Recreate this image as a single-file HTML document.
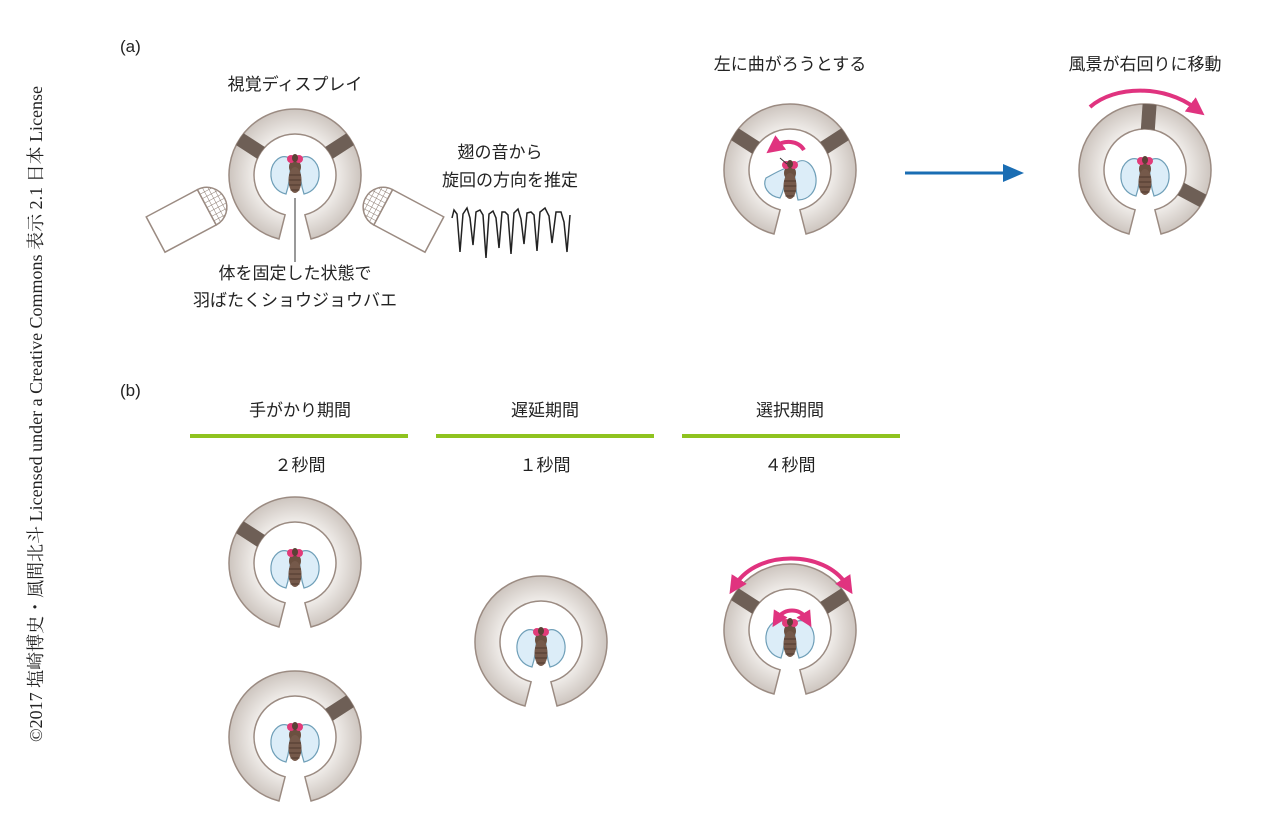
<!DOCTYPE html>
<html><head><meta charset="utf-8"><style>
body{margin:0;background:#fff}
svg{display:block}
text{font-family:"Liberation Sans","Noto Sans CJK JP",sans-serif;font-size:17px;fill:#222}
</style></head><body>
<svg width="1272" height="834" viewBox="0 0 1272 834" xmlns="http://www.w3.org/2000/svg">
<defs>
<radialGradient id="rg" cx="0" cy="0" r="66" gradientUnits="userSpaceOnUse">
<stop offset="0.6" stop-color="#f2efec"/><stop offset="1" stop-color="#cdc5bf"/></radialGradient>
<path id="ringp" d="M16 64 A66 66 0 1 0 -16 64 L-9.9 39.8 A41 41 0 1 1 9.9 39.8 Z"/>
<clipPath id="rc"><use href="#ringp"/></clipPath>
<g id="ring"><use href="#ringp" fill="url(#rg)" stroke="#9b8b82" stroke-width="1.5"/></g>
<rect id="pan" x="-7" y="-68" width="14" height="30" fill="#6e5f56"/>
<g id="wingR"><path d="M4 -13 C14 -20 23 -10 24 0 C25 12 18 20 9 22 C5 10 5 0 4 -13 Z" fill="#dcedf8" stroke="#6f9fb8" stroke-width="1.2"/></g>
<g id="body">
<ellipse cx="0" cy="-5" rx="6" ry="7" fill="#6b5040"/>
<ellipse cx="0" cy="8" rx="6.5" ry="13" fill="#75594a"/>
<path d="M-6 3 H6 M-6.3 8 H6.3 M-6 13 H6 M-4.5 18 H4.5" stroke="#4e392d" stroke-width="1"/>
<circle cx="-4" cy="-13" r="4" fill="#e23b79"/><circle cx="4" cy="-13" r="4" fill="#e23b79"/>
<ellipse cx="0" cy="-14" rx="3" ry="4" fill="#5a4236"/>
</g>
<g id="fly"><use href="#wingR"/><use href="#wingR" transform="scale(-1,1)"/><use href="#body"/></g>
<pattern id="hatch" width="5" height="5" patternUnits="userSpaceOnUse">
<rect width="5" height="5" fill="#fff"/><path d="M0 0 H5 M0 0 V5" stroke="#8a7a70" stroke-width="1"/></pattern>
<g id="mic">
<rect x="-48" y="-20" width="58" height="40" fill="#fff" stroke="#9b8b82" stroke-width="1.5"/>
<path d="M10 -20 A20 20 0 0 1 10 20 Z" fill="url(#hatch)" stroke="#9b8b82" stroke-width="1.5"/>
</g>
<marker id="ah" viewBox="0 0 6 6" markerWidth="4.5" markerHeight="4.5" refX="2" refY="3" orient="auto" markerUnits="strokeWidth"><path d="M0 0 L6 3 L0 6 Z" fill="#e0337f"/></marker>
<marker id="ahs" viewBox="0 0 6 6" markerWidth="4.5" markerHeight="4.5" refX="2" refY="3" orient="auto-start-reverse" markerUnits="strokeWidth"><path d="M0 0 L6 3 L0 6 Z" fill="#e0337f"/></marker>
<marker id="ahm" viewBox="0 0 6 6" markerWidth="4" markerHeight="4" refX="2" refY="3" orient="auto-start-reverse" markerUnits="strokeWidth"><path d="M0 0 L6 3 L0 6 Z" fill="#e0337f"/></marker>
</defs>

<text x="42" y="414" transform="rotate(-90 42 414)" text-anchor="middle" style="font-family:'Liberation Serif','Noto Serif CJK SC',serif;font-size:18px">©2017 塩崎博史・風間北斗 Licensed under a Creative Commons 表示 2.1 日本 License</text>

<text x="120" y="52">(a)</text>
<text x="295" y="90" text-anchor="middle">視覚ディスプレイ</text>
<text x="500" y="158" text-anchor="middle">翅の音から</text>
<text x="510" y="186" text-anchor="middle">旋回の方向を推定</text>
<text x="295" y="279" text-anchor="middle">体を固定した状態で</text>
<text x="295" y="306" text-anchor="middle">羽ばたくショウジョウバエ</text>
<text x="790" y="70" text-anchor="middle">左に曲がろうとする</text>
<text x="1145" y="70" text-anchor="middle">風景が右回りに移動</text>

<g transform="translate(295,175)">
<use href="#ring"/>
<g clip-path="url(#rc)"><use href="#pan" transform="rotate(-57)"/><use href="#pan" transform="rotate(57)"/></g>
<use href="#fly" transform="translate(0,-3)"/>
</g>
<line x1="295" y1="198" x2="295" y2="262" stroke="#333" stroke-width="1"/>
<use href="#mic" transform="translate(198,212) rotate(-28)"/>
<use href="#mic" transform="translate(392,212) scale(-1,1) rotate(-28)"/>
<path d="M452 218 L454 210 L457 214 L460 252 L463 214 L467 208 L470 218 L473 245 L476 212 L480 210 L483 215 L486 258 L489 214 L493 211 L496 218 L499 248 L502 212 L505 212 L508 215 L511 254 L514 213 L518 209 L521 219 L524 244 L527 213 L531 212 L534 215 L537 251 L540 212 L545 208 L549 216 L552 243 L556 212 L561 212 L564 222 L567 252 L570 215" fill="none" stroke="#222" stroke-width="1.5"/>

<g transform="translate(790,170)">
<use href="#ring"/>
<g clip-path="url(#rc)"><use href="#pan" transform="rotate(-57)"/><use href="#pan" transform="rotate(57)"/></g>
<g transform="translate(0,8)">
<path d="M-4 -10 C-14 -6 -20 -2 -24 0 C-28 8 -22 18 -10 20 C-6 12 -4 2 -4 -10Z" fill="#dcedf8" stroke="#6f9fb8" stroke-width="1.2"/>
<path d="M4 -13 C14 -24 25 -12 26 0 C27 14 18 22 8 22 C5 10 5 0 4 -13 Z" fill="#dcedf8" stroke="#6f9fb8" stroke-width="1.2"/>
<use href="#body"/>
<line x1="-3" y1="-14" x2="-10" y2="-20" stroke="#333" stroke-width="1"/>
</g>
<path d="M14 -20 C8 -30 -6 -30 -14 -24" fill="none" stroke="#e0337f" stroke-width="4" marker-end="url(#ah)"/>
</g>
<line x1="905" y1="173" x2="1005" y2="173" stroke="#1a6db3" stroke-width="3"/>
<path d="M1003 164 L1024 173 L1003 182 Z" fill="#1a6db3"/>

<g transform="translate(1145,170)">
<use href="#ring"/>
<g clip-path="url(#rc)"><use href="#pan" transform="rotate(4)"/><use href="#pan" transform="rotate(118)"/></g>
<use href="#fly" transform="translate(0,4)"/>
<path d="M-55 -63 C-30 -85 20 -85 50 -62" fill="none" stroke="#e0337f" stroke-width="4" marker-end="url(#ah)"/>
</g>

<text x="120" y="396">(b)</text>
<text x="300" y="416" text-anchor="middle">手がかり期間</text>
<text x="545" y="416" text-anchor="middle">遅延期間</text>
<text x="790" y="416" text-anchor="middle">選択期間</text>
<rect x="190" y="434" width="218" height="4" fill="#8fc31f"/>
<rect x="436" y="434" width="218" height="4" fill="#8fc31f"/>
<rect x="682" y="434" width="218" height="4" fill="#8fc31f"/>
<text x="300" y="471" text-anchor="middle">２秒間</text>
<text x="545" y="471" text-anchor="middle">１秒間</text>
<text x="790" y="471" text-anchor="middle">４秒間</text>

<g transform="translate(295,563)">
<use href="#ring"/>
<g clip-path="url(#rc)"><use href="#pan" transform="rotate(-57)"/></g>
<use href="#fly" transform="translate(0,3)"/>
</g>
<g transform="translate(295,737)">
<use href="#ring"/>
<g clip-path="url(#rc)"><use href="#pan" transform="rotate(57)"/></g>
<use href="#fly" transform="translate(0,3)"/>
</g>
<g transform="translate(541,642)">
<use href="#ring"/>
<use href="#fly" transform="translate(0,3)"/>
</g>
<g transform="translate(790,630)">
<use href="#ring"/>
<g clip-path="url(#rc)"><use href="#pan" transform="rotate(-57)"/><use href="#pan" transform="rotate(57)"/></g>
<use href="#fly" transform="translate(0,6)"/>
<path d="M-54 -46 C-32 -80 34 -80 56 -46" fill="none" stroke="#e0337f" stroke-width="4" marker-start="url(#ahs)" marker-end="url(#ah)"/>
<path d="M-12 -12 C-6 -22 10 -22 16 -12" fill="none" stroke="#e0337f" stroke-width="4" marker-start="url(#ahm)" marker-end="url(#ahm)"/>
</g>
</svg>
</body></html>
